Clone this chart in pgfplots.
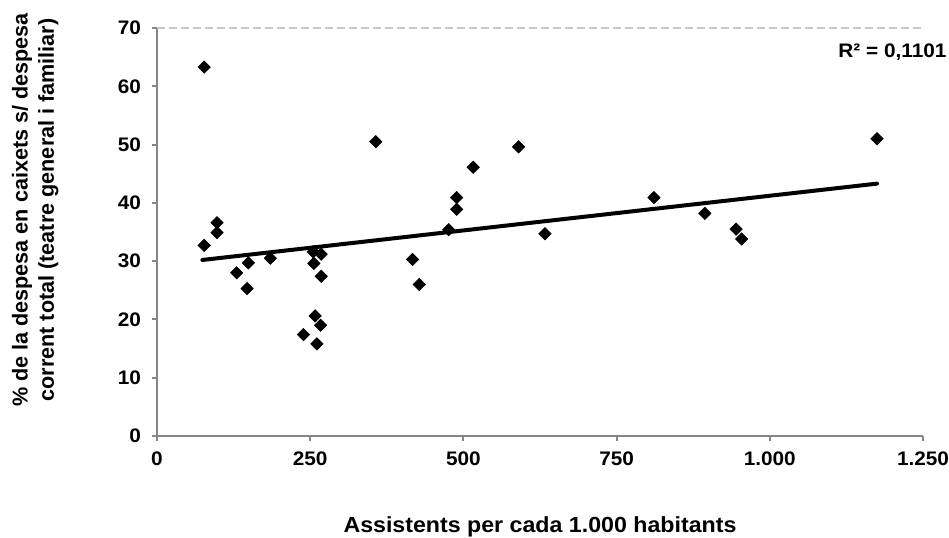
\documentclass[border=0pt]{standalone}
\usepackage{pgfplots}
\pgfplotsset{compat=1.18}
\usepackage{fontspec}
\setmainfont{Liberation Sans}
\newfontfamily\widefont[FakeStretch=1.06]{Liberation Sans}
\definecolor{axgray}{RGB}{134,134,134}
\definecolor{gridgray}{RGB}{200,200,200}
\newcommand{\chartfont}{\widefont\bfseries\fontsize{14.7}{17}\selectfont}
\newcommand{\xlabelfont}{\widefont\bfseries\fontsize{16.4}{19.8}\selectfont}
\newcommand{\ylabelfont}{\bfseries\fontsize{16.2}{19.8}\selectfont}
\begin{document}
\begin{tikzpicture}
\begin{axis}[
  scale only axis,
  width=574.5pt, height=306pt,
  xmin=0, xmax=1250, ymin=0, ymax=70,
  axis x line*=bottom, axis y line*=left,
  axis line style={axgray, line width=1.5pt, -},
  xtick={0,250,500,750,1000,1250},
  ytick={0,10,20,30,40,50,60,70},
  tick style={axgray, line width=1.5pt},
  tick align=outside,
  major tick length=4pt,
  ymajorgrids=false,
  extra y ticks={70},
  extra y tick labels={},
  extra y tick style={ymajorgrids=true, major grid style={gridgray, dash pattern=on 6pt off 3pt, line width=1pt}, major tick length=0pt},
  /pgf/number format/assume math mode=true,
  /pgf/number format/1000 sep={.},
  ticklabel style={font=\chartfont},
  yticklabel style={xshift=-4.5pt},
  xticklabel style={yshift=-4pt},
  xlabel={Assistents per cada 1.000 habitants},
  xlabel style={font=\xlabelfont, at={(axis description cs:0.5,-0.223)}, anchor=center},
  ylabel={\% de la despesa en caixets s/ despesa\\corrent total (teatre general i familiar)},
  ylabel style={font=\ylabelfont, at={(axis description cs:-0.159,0.554)}, anchor=center, align=center},
  clip=false,
]
\addplot[only marks, mark=square*, mark size=3.3pt, mark options={rotate=45, fill=black, draw=black}] coordinates {
(77,63.3) (77,32.7) (98,36.6) (98,34.9) (130,28.0) (149,29.7) (147,25.3)
(185,30.5) (255,31.6) (268,31.2) (256,29.6) (268,27.4) (258,20.6) (267,19.0)
(239,17.4) (261,15.8) (357,50.5) (417,30.3) (428,26.0) (476,35.4) (489,40.9)
(489,38.9) (516,46.1) (590,49.6) (633,34.7) (811,40.9) (894,38.2) (945,35.5)
(954,33.8) (1175,51.0)
};
\addplot[black, line width=3pt, line cap=round] coordinates {(74,30.2) (1175,43.3)};
\node[anchor=east, font=\chartfont, inner sep=0pt] at (rel axis cs:1.031,0.94) {R² = 0,1101};
\end{axis}
\pgfresetboundingbox
\path (-117.75pt,-76.5pt) rectangle (594pt,327pt);
\end{tikzpicture}
\end{document}
